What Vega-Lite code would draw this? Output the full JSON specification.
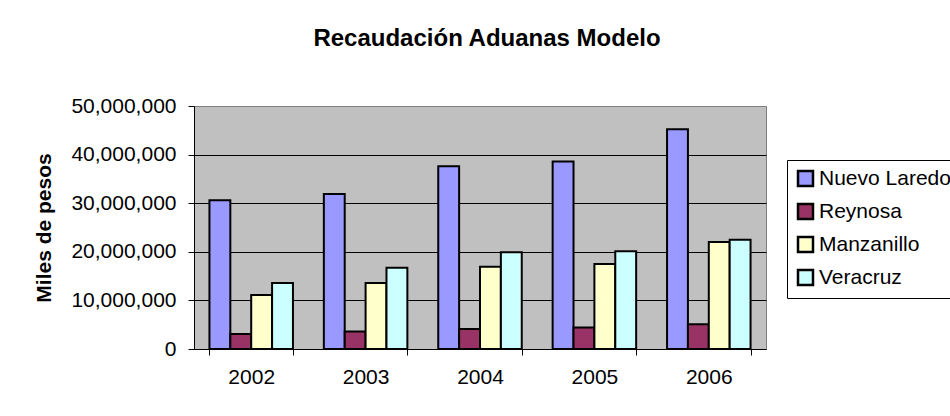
{
  "$schema": "https://vega.github.io/schema/vega-lite/v6.json",
  "autosize": {"type": "none"},
  "width": 572,
  "height": 243,
  "padding": {"left": 194, "top": 106, "right": 184, "bottom": 67},
  "background": "white",
  "title": {
    "text": "Recaudación Aduanas Modelo",
    "font": "Liberation Sans",
    "fontSize": 24,
    "fontWeight": "bold",
    "color": "black",
    "anchor": "middle",
    "frame": "group",
    "baseline": "alphabetic",
    "offset": 25,
    "dx": 7
  },
  "data": {
    "values": [
      {"year": "2002", "aduana": "Nuevo Laredo", "monto": 30600000},
      {"year": "2002", "aduana": "Reynosa", "monto": 3100000},
      {"year": "2002", "aduana": "Manzanillo", "monto": 11100000},
      {"year": "2002", "aduana": "Veracruz", "monto": 13600000},
      {"year": "2003", "aduana": "Nuevo Laredo", "monto": 31900000},
      {"year": "2003", "aduana": "Reynosa", "monto": 3600000},
      {"year": "2003", "aduana": "Manzanillo", "monto": 13600000},
      {"year": "2003", "aduana": "Veracruz", "monto": 16700000},
      {"year": "2004", "aduana": "Nuevo Laredo", "monto": 37600000},
      {"year": "2004", "aduana": "Reynosa", "monto": 4100000},
      {"year": "2004", "aduana": "Manzanillo", "monto": 16900000},
      {"year": "2004", "aduana": "Veracruz", "monto": 19900000},
      {"year": "2005", "aduana": "Nuevo Laredo", "monto": 38600000},
      {"year": "2005", "aduana": "Reynosa", "monto": 4400000},
      {"year": "2005", "aduana": "Manzanillo", "monto": 17500000},
      {"year": "2005", "aduana": "Veracruz", "monto": 20100000},
      {"year": "2006", "aduana": "Nuevo Laredo", "monto": 45200000},
      {"year": "2006", "aduana": "Reynosa", "monto": 5100000},
      {"year": "2006", "aduana": "Manzanillo", "monto": 22000000},
      {"year": "2006", "aduana": "Veracruz", "monto": 22500000}
    ]
  },
  "mark": {"type": "bar", "stroke": "black", "strokeWidth": 2},
  "encoding": {
    "x": {
      "field": "year",
      "type": "nominal",
      "scale": {"paddingInner": 0.27, "paddingOuter": 0.135},
      "axis": {
        "title": null,
        "labelAngle": 0,
        "labelFont": "Liberation Sans",
        "labelFontSize": 21,
        "labelColor": "black",
        "labelPadding": 11,
        "tickBand": "extent",
        "tickColor": "black",
        "tickSize": 6,
        "domainColor": "black",
        "domainWidth": 1,
        "grid": false
      }
    },
    "xOffset": {
      "field": "aduana",
      "type": "nominal",
      "sort": ["Nuevo Laredo", "Reynosa", "Manzanillo", "Veracruz"],
      "scale": {"paddingInner": 0, "paddingOuter": 0}
    },
    "y": {
      "field": "monto",
      "type": "quantitative",
      "scale": {"domain": [0, 50000000], "nice": false},
      "axis": {
        "title": "Miles de pesos",
        "titleFont": "Liberation Sans",
        "titleFontSize": 21,
        "titleFontWeight": "bold",
        "titleColor": "black",
        "titlePadding": 16,
        "values": [0, 10000000, 20000000, 30000000, 40000000, 50000000],
        "format": ",d",
        "labelFont": "Liberation Sans",
        "labelFontSize": 21,
        "labelColor": "black",
        "labelPadding": 12,
        "tickColor": "black",
        "tickSize": 6,
        "domainColor": "black",
        "grid": true,
        "gridColor": {"condition": {"test": "datum.value == 50000000", "value": "#808080"}, "value": "black"},
        "gridWidth": 1,
        "gridOpacity": 1
      }
    },
    "color": {
      "field": "aduana",
      "type": "nominal",
      "sort": ["Nuevo Laredo", "Reynosa", "Manzanillo", "Veracruz"],
      "scale": {
        "domain": ["Nuevo Laredo", "Reynosa", "Manzanillo", "Veracruz"],
        "range": ["#9999FF", "#993366", "#FFFFCC", "#CCFFFF"]
      },
      "legend": {
        "title": null,
        "orient": "none",
        "legendX": 593,
        "legendY": 54,
        "padding": 8,
        "fillColor": "white",
        "strokeColor": "black",
        "symbolType": "square",
        "symbolSize": 225,
        "symbolStrokeColor": "black",
        "symbolStrokeWidth": 2.5,
        "symbolOpacity": 1,
        "labelFont": "Liberation Sans",
        "labelFontSize": 21,
        "labelColor": "black",
        "labelOffset": 3,
        "rowPadding": 8,
        "labelLimit": 300
      }
    }
  },
  "config": {
    "view": {"fill": "#C0C0C0", "stroke": "#808080", "strokeWidth": 1}
  }
}
